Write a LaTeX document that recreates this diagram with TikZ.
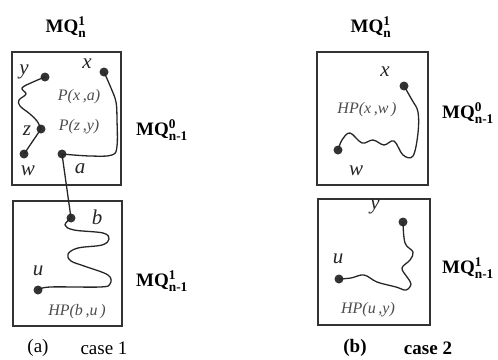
\documentclass[tikz,border=0pt]{standalone}
\usepackage{amsmath}
\usepackage{fontspec}
\setmainfont{Liberation Serif}
\begin{document}
\begin{tikzpicture}[x=1pt,y=-1pt,
  box/.style={draw=black!80, line width=1.2pt, inner sep=0, fill=none},
  dot/.style={circle, fill=black!80, inner sep=0, minimum size=9pt},
  hp/.style={line width=1.3pt, draw=black!85, line cap=round, line join=round},
  lbl/.style={font=\fontsize{21}{21}\selectfont\itshape, text=black!85, inner sep=0},
  plbl/.style={font=\fontsize{16}{16}\selectfont\itshape, text=black!70, inner sep=0},
  mq/.style={font=\fontsize{19}{19}\selectfont, text=black, inner sep=0},
  captxt/.style={font=\fontsize{19}{19}\selectfont, text=black, inner sep=0}]
\useasboundingbox (0,0) rectangle (498,359);

% ---------------- case 1 ----------------
\node[box, minimum width=109pt, minimum height=133pt] (A0) at (66.5,118.5) {};
\node[box, minimum width=109pt, minimum height=125pt] (A1) at (67.5,263.5) {};

\node[mq] (tA) at (66,27) {$\textbf{MQ}^{\textbf{1}}_{\textbf{n}}$};
\node[mq, anchor=west] (mA0) at (136,130) {$\textbf{MQ}^{\textbf{0}}_{\textbf{n-1}}$};
\node[mq, anchor=west] (mA1) at (136,281) {$\textbf{MQ}^{\textbf{1}}_{\textbf{n-1}}$};

\node[dot] (dy) at (45,77) {};
\node[dot] (dx) at (104,72) {};
\node[dot] (dz) at (41,129) {};
\node[dot] (dw) at (24,154) {};
\node[dot] (da) at (62,154) {};
\node[dot] (db) at (71,218) {};
\node[dot] (du) at (38,290) {};

\node[lbl] (ly) at (24,72) {y};
\node[lbl] (lx) at (87,64) {x};
\node[lbl] (lz) at (27,131) {z};
\node[lbl] (lw) at (28,171) {w};
\node[lbl] (la) at (80,169) {a};
\node[lbl] (lb) at (97,217) {b};
\node[lbl] (lu) at (38,271) {u};

\node[plbl] (pxa) at (79,97) {P(x\,,a)};
\node[plbl] (pzy) at (79,127) {P(z\,,y)};
\node[plbl] (hbu) at (77,312) {HP(b\,,u\,)};

\draw[hp] plot[smooth, tension=0.6] coordinates {(dy.center) (33,82) (22,88) (26,94) (19,100) (20,106) (30,114) (37,121) (dz.center)};
\draw[hp] (dz.center) -- (dw.center);
\draw[hp] plot[smooth, tension=0.6] coordinates {(dx.center) (111,88) (116,102) (117,120) (117,146) (112,155) (90,156) (da.center)};
\draw[hp] (da.center) -- (db.center);
\draw[hp] plot[smooth, tension=0.6] coordinates {(db.center) (65,225) (74,230) (103,233) (109,239) (102,245) (78,248) (68,254) (71,261) (84,266) (108,275) (110,284) (100,287) (50,287) (du.center)};

\node[captxt] (ca) at (38,348) {(a)};
\node[captxt] (ca1) at (104,348) {case 1};

% ---------------- case 2 ----------------
\node[box, minimum width=111pt, minimum height=133pt] (B0) at (372.5,118.5) {};
\node[box, minimum width=112pt, minimum height=126pt] (B1) at (374,262) {};

\node[mq] (tB) at (371,27) {$\textbf{MQ}^{\textbf{1}}_{\textbf{n}}$};
\node[mq, anchor=west] (mB0) at (442,113) {$\textbf{MQ}^{\textbf{0}}_{\textbf{n-1}}$};
\node[mq, anchor=west] (mB1) at (442,268) {$\textbf{MQ}^{\textbf{1}}_{\textbf{n-1}}$};

\node[dot] (ex) at (404,86) {};
\node[dot] (ew) at (338,150) {};
\node[dot] (ey) at (403,222) {};
\node[dot] (eu) at (339,279) {};

\node[lbl] (mx) at (385,72) {x};
\node[lbl] (mw) at (356,171) {w};
\node[lbl] (my) at (375,207) {y};
\node[lbl] (mu) at (338,259) {u};

\node[plbl] (hxw) at (367,110) {HP(x\,,w\,)};
\node[plbl] (huy) at (368,310) {HP(u\,,y)};

\draw[hp] plot[smooth, tension=0.6] coordinates {(ex.center) (412,100) (418,112) (418,133) (413,156) (403,155) (394,141) (384,145) (373,140) (362,143) (350,133) (342,140) (ew.center)};
\draw[hp] plot[smooth, tension=0.6] coordinates {(ey.center) (405,243) (413,252) (410,260) (402,268) (407,277) (411,284) (406,290) (396,287) (377,282) (364,275) (351,278) (eu.center)};

\node[captxt, font=\fontsize{19}{19}\selectfont\bfseries] (cb) at (355,348) {(b)};
\node[captxt, font=\fontsize{19}{19}\selectfont\bfseries] (cb2) at (428,348) {case 2};
\end{tikzpicture}
\end{document}
